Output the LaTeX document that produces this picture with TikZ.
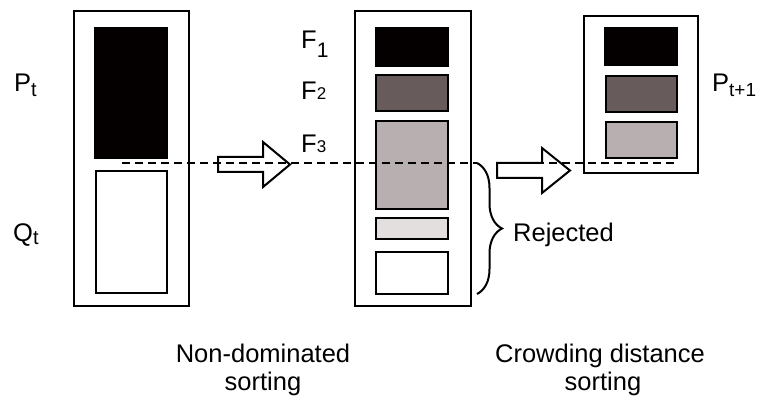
\documentclass[tikz,border=0pt]{standalone}
\usepackage{fontspec}
\setmainfont{Liberation Sans}
\usetikzlibrary{decorations.pathreplacing}

\definecolor{frontA}{HTML}{050000}
\definecolor{frontB}{HTML}{675C5B}
\definecolor{frontC}{HTML}{B8B0B0}
\definecolor{frontD}{HTML}{E3DFDF}

% subscript helper: lowered, smaller upright text
\newcommand{\lowsub}[3]{\raisebox{-#1pt}{\fontsize{#2}{#2}\selectfont #3}}

\tikzset{
  frame/.style={draw, line width=2pt, inner sep=0pt, outer sep=0pt, anchor=north west},
  cell/.style={draw, line width=2pt, inner sep=0pt, outer sep=0pt, anchor=north west},
  lbl/.style={inner sep=0pt, anchor=base west, font=\fontsize{25.5}{30}\selectfont},
  caption/.style={inner sep=0pt, anchor=base, font=\fontsize{25.5}{30}\selectfont},
  cutline/.style={line width=2pt, dash pattern=on 8pt off 5pt},
  blockarrow/.style={draw, line width=2pt, fill=white, line join=miter},
  rejectbrace/.style={draw, line width=2pt, decorate,
    decoration={brace, amplitude=25pt}}
}

\begin{document}
\begin{tikzpicture}[x=1pt, y=-1pt]
  \useasboundingbox (0,0) rectangle (763,398);

  % population P_t + Q_t
  \node[frame, minimum width=115pt, minimum height=295pt] (left) at (74,11) {};
  \node[cell, fill=frontA, minimum width=72pt, minimum height=130pt] (pt) at (95,28) {};
  \node[cell, fill=white, minimum width=71pt, minimum height=122pt] (qt) at (96,171) {};

  % fronts after non-dominated sorting
  \node[frame, minimum width=116pt, minimum height=295pt] (mid) at (355,11) {};
  \node[cell, fill=frontA, minimum width=72pt, minimum height=38pt] (f1) at (376,28) {};
  \node[cell, fill=frontB, minimum width=72pt, minimum height=36pt] (f2) at (376,75) {};
  \node[cell, fill=frontC, minimum width=72pt, minimum height=88pt] (f3) at (376,121) {};
  \node[cell, fill=frontD, minimum width=72pt, minimum height=21pt] (f4) at (376,218) {};
  \node[cell, fill=white, minimum width=72pt, minimum height=42pt] (f5) at (376,252) {};

  % next population P_{t+1}
  \node[frame, minimum width=114pt, minimum height=157pt] (right) at (584,16) {};
  \node[cell, fill=frontA, minimum width=72pt, minimum height=37pt] (r1) at (605,28) {};
  \node[cell, fill=frontB, minimum width=71pt, minimum height=36pt] (r2) at (606,76) {};
  \node[cell, fill=frontC, minimum width=71pt, minimum height=36pt] (r3) at (606,122) {};

  % block arrows
  \draw[blockarrow] (218,157) -- (263,157) -- (263,142) -- (290,164.5)
    -- (263,187) -- (263,172) -- (218,172) -- cycle;
  \draw[blockarrow] (497,163) -- (542,163) -- (542,148) -- (570,170.5)
    -- (542,193) -- (542,178) -- (497,178) -- cycle;

  % brace over the rejected part
  \coordinate (bracetop) at (477,163);
  \coordinate (bracebot) at (477,294);
  \draw[rejectbrace] (bracetop) -- (bracebot);

  % cut lines
  \coordinate (cutA) at (122,163);
  \coordinate (cutB) at (497,163);
  \coordinate (cutC) at (677,163);
  \draw[cutline] (cutA) -- (bracetop);
  \draw[cutline] (cutB) -- (cutC);

  % labels
  \node[lbl] (lp) at (14,92) {P\lowsub{5}{20}{t}};
  \node[lbl] (lq) at (13,241) {Q\lowsub{3}{20}{t}};
  \node[lbl] (l1) at (301,49) {F\lowsub{9}{21}{1}};
  \node[lbl] (l2) at (301,100) {F{\fontsize{17}{17}\selectfont 2}};
  \node[lbl] (l3) at (301,153) {F{\fontsize{17}{17}\selectfont 3}};
  \node[lbl] (lp1) at (712,92) {P\lowsub{5}{19}{t+1}};
  \node[lbl] (lrej) at (513,241) {Rejected};

  \node[caption] (c1) at (263,362) {Non-dominated};
  \node[caption] (c2) at (263,390) {sorting};
  \node[caption] (c3) at (600,362) {Crowding distance};
  \node[caption] (c4) at (603,390) {sorting};
\end{tikzpicture}
\end{document}
